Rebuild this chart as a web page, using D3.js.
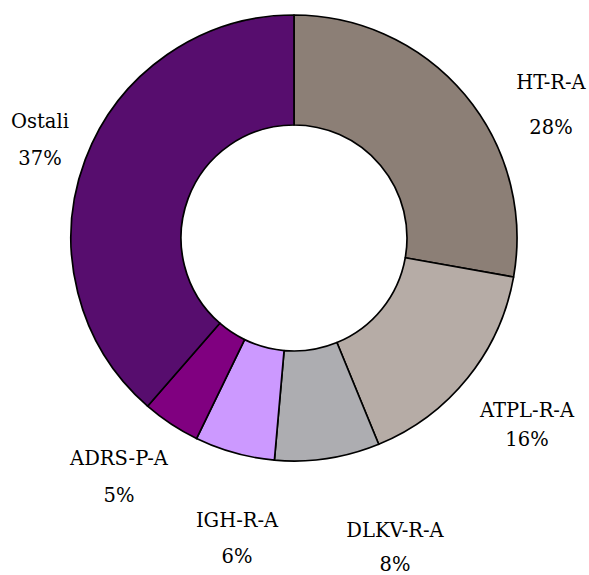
<!DOCTYPE html>
<html>
<head>
<meta charset="utf-8">
<script src="https://cdn.jsdelivr.net/npm/d3@7"></script>
<style>
  html, body { margin: 0; padding: 0; background: #fff; }
  svg { display: block; }
</style>
</head>
<body>
<svg id="chart" width="589" height="575"></svg>
<script>
const categories = ["HT-R-A", "ATPL-R-A", "DLKV-R-A", "IGH-R-A", "ADRS-P-A", "Ostali"];
// slice shares as drawn in the reference
const values = [27.8, 16.0, 7.6, 5.8, 4.2, 38.6];
// percentage labels as printed in the reference
const pctLabels = ["28%", "16%", "8%", "6%", "5%", "37%"];
const colors = ["#8C7F76", "#B6ACA6", "#ADADB1", "#CC99FF", "#800080", "#570D6E"];

// label layout (centre x, name baseline, percent baseline)
const labelLayout = [
  [551, 89, 134],
  [527, 417, 446],
  [395, 537, 571],
  [237, 527, 563],
  [119, 465, 502],
  [40, 128, 165]
];

const FONT = "'DejaVu Serif', serif";

const svg = d3.select("#chart");
const cx = 294, cy = 238, R = 223, r = 113;

const pie = d3.pie().sort(null).value(d => d.value);
const arc = d3.arc().innerRadius(r).outerRadius(R);
const data = categories.map((c, i) => ({ name: c, value: values[i], color: colors[i], pct: pctLabels[i] }));

const g = svg.append("g").attr("transform", `translate(${cx},${cy})`);
g.selectAll("path")
  .data(pie(data))
  .join("path")
  .attr("d", arc)
  .attr("fill", d => d.data.color)
  .attr("stroke", "#000")
  .attr("stroke-width", 1.7)
  .attr("stroke-linejoin", "round");

const lab = svg.append("g")
  .attr("font-family", FONT)
  .attr("font-size", "19.5px")
  .attr("fill", "#000");
data.forEach((d, i) => {
  const [x, y1, y2] = labelLayout[i];
  lab.append("text").attr("x", x).attr("y", y1).attr("text-anchor", "middle").text(d.name);
  lab.append("text").attr("x", x).attr("y", y2).attr("text-anchor", "middle").text(d.pct);
});
</script>
</body>
</html>
